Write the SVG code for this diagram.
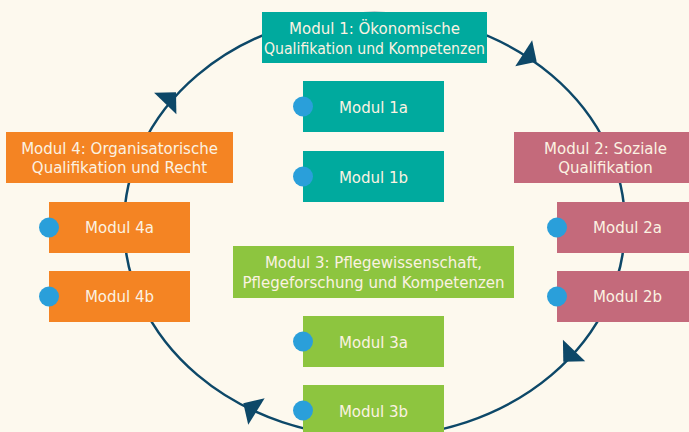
<svg xmlns="http://www.w3.org/2000/svg" width="689" height="432" viewBox="0 0 689 432">
<defs>
<style>
.t{font-family:"DejaVu Sans","Liberation Sans",sans-serif;font-size:15px;fill:#FBF2E2;text-anchor:middle}
.teal{fill:#00AA9E}
.orange{fill:#F48423}
.pink{fill:#C46A7B}
.green{fill:#8DC53F}
.dot{fill:#2A9FDA}
.ah{fill:#0D4868}
</style>
<path id="ah" d="M0 0 L-15.5 -15.5 L-15.5 15.5 Z"/>
</defs>
<rect width="689" height="432" fill="#FDF9EE"/>
<g id="connectors">
<ellipse cx="374.5" cy="225" rx="250.5" ry="212" fill="none" stroke="#0D4868" stroke-width="2.5"/>
<use href="#ah" class="ah" transform="translate(536.7 61.7) rotate(33)"/>
<use href="#ah" class="ah" transform="translate(563.3 361.7) rotate(134)"/>
<use href="#ah" class="ah" transform="translate(243.3 403.3) rotate(212)"/>
<use href="#ah" class="ah" transform="translate(176 92.3) rotate(-46)"/>
</g>
<g id="modul1">
<rect class="teal" x="262" y="12" width="225" height="51"/>
<text class="t" x="374.5" y="34">Modul 1: Ökonomische</text>
<text class="t" x="374.5" y="53.5" textLength="221" lengthAdjust="spacingAndGlyphs">Qualifikation und Kompetenzen</text>
</g>
<g id="modul1a">
<rect class="teal" x="303" y="81" width="141" height="51"/>
<circle class="dot" cx="303" cy="106.5" r="10"/>
<text class="t" x="373.5" y="112.5">Modul 1a</text>
</g>
<g id="modul1b">
<rect class="teal" x="303" y="151" width="141" height="51"/>
<circle class="dot" cx="303" cy="176.5" r="10"/>
<text class="t" x="373.5" y="182.5">Modul 1b</text>
</g>
<g id="modul2">
<rect class="pink" x="514" y="132" width="183" height="51"/>
<text class="t" x="605.5" y="154.3">Modul 2: Soziale</text>
<text class="t" x="605.5" y="173.3">Qualifikation</text>
</g>
<g id="modul2a">
<rect class="pink" x="557" y="202" width="141" height="51"/>
<circle class="dot" cx="557" cy="227.5" r="10"/>
<text class="t" x="627.5" y="233.3">Modul 2a</text>
</g>
<g id="modul2b">
<rect class="pink" x="557" y="271" width="141" height="51"/>
<circle class="dot" cx="557" cy="296.5" r="10"/>
<text class="t" x="627.5" y="302.3">Modul 2b</text>
</g>
<g id="modul3">
<rect class="green" x="233" y="246" width="281" height="52"/>
<text class="t" x="373.5" y="267.7">Modul 3: Pflegewissenschaft,</text>
<text class="t" x="373.5" y="288.3">Pflegeforschung und Kompetenzen</text>
</g>
<g id="modul3a">
<rect class="green" x="303" y="316" width="141" height="51"/>
<circle class="dot" cx="303" cy="341.5" r="10"/>
<text class="t" x="373.5" y="348.3">Modul 3a</text>
</g>
<g id="modul3b">
<rect class="green" x="303" y="385" width="141" height="51"/>
<circle class="dot" cx="303" cy="410.5" r="10"/>
<text class="t" x="373.5" y="416.7">Modul 3b</text>
</g>
<g id="modul4">
<rect class="orange" x="6" y="132" width="227" height="51"/>
<text class="t" x="119.5" y="154.3">Modul 4: Organisatorische</text>
<text class="t" x="119.5" y="173.3">Qualifikation und Recht</text>
</g>
<g id="modul4a">
<rect class="orange" x="49" y="202" width="141" height="51"/>
<circle class="dot" cx="49" cy="227.5" r="10"/>
<text class="t" x="119.5" y="233.3">Modul 4a</text>
</g>
<g id="modul4b">
<rect class="orange" x="49" y="271" width="141" height="51"/>
<circle class="dot" cx="49" cy="296.5" r="10"/>
<text class="t" x="119.5" y="302.3">Modul 4b</text>
</g>
</svg>
